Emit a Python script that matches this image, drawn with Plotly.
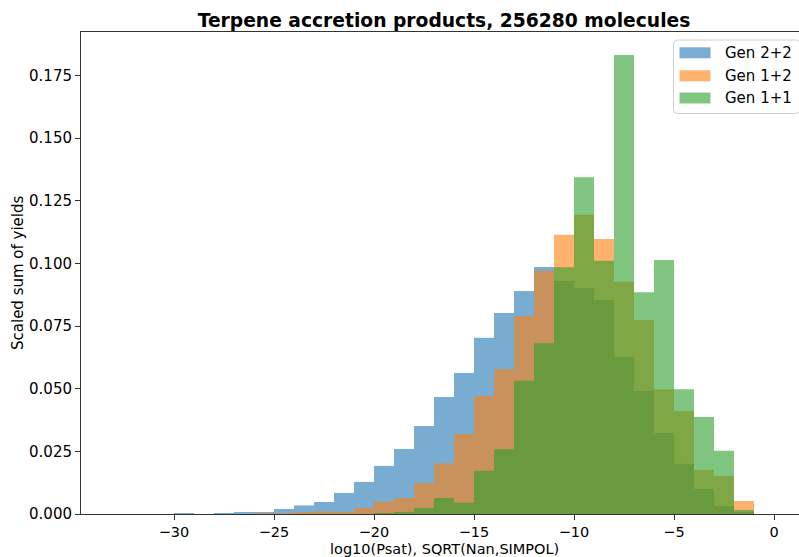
import plotly.graph_objects as go

# ---------------- data ----------------
bin_edges = list(range(-33, 1))  # 33 bins of width 1, from -33 to 0

# values per bin (left edges -33 ... -1)
gen22 = [0, 0, 0, 0.0002, 0, 0.0003, 0.0007, 0.0008, 0.0020, 0.0034, 0.0048,
         0.0084, 0.0128, 0.0192, 0.0259, 0.0351, 0.0467, 0.0563, 0.0703, 0.0802,
         0.0890, 0.0986, 0.0930, 0.0902, 0.0854, 0.0627, 0.0491, 0.0323, 0.0200,
         0.0100, 0.0032, 0.0006, 0]
gen12 = [0, 0, 0, 0, 0, 0, 0, 0.0002, 0.0003, 0.0006, 0.0010,
         0.0008, 0.0024, 0.0050, 0.0064, 0.0123, 0.0202, 0.0319, 0.0471, 0.0578,
         0.0790, 0.0971, 0.1114, 0.1194, 0.1097, 0.0927, 0.0774, 0.0498, 0.0411,
         0.0176, 0.0152, 0.0052, 0]
gen11 = [0, 0, 0, 0, 0, 0, 0, 0, 0, 0, 0,
         0, 0, 0.0002, 0.0006, 0.0024, 0.0064, 0.0045, 0.0172, 0.0258,
         0.0532, 0.0681, 0.0985, 0.1344, 0.1011, 0.1832, 0.0885, 0.1014, 0.0498,
         0.0387, 0.0252, 0.0016, 0]

series_names = ["Gen 2+2", "Gen 1+2", "Gen 1+1"]
series_colors = ["#1f77b4", "#ff7f0e", "#2ca02c"]

x_tick_vals = [-30, -25, -20, -15, -10, -5, 0]
x_tick_text = ["\u221230", "\u221225", "\u221220", "\u221215", "\u221210", "\u22125", "0"]
y_tick_vals = [0.0, 0.025, 0.05, 0.075, 0.1, 0.125, 0.15, 0.175]
y_tick_text = ["0.000", "0.025", "0.050", "0.075", "0.100", "0.125", "0.150", "0.175"]

title_text = "Terpene accretion products, 256280 molecules"
x_label = "log10(Psat), SQRT(Nan,SIMPOL)"
y_label = "Scaled sum of yields"

# ---------------- layout geometry (pixels) ----------------
W, H = 799, 557
PL, PT, PB = 81, 32, 514
PR = 799
FONT = "DejaVu Sans"
ALPHA = 0.6


def px(x):
    return (x - PL) / (PR - PL)


def py(y):
    return (PB - y) / (PB - PT)


centers = [(a + b) / 2 for a, b in zip(bin_edges[:-1], bin_edges[1:])]
widths = [b - a for a, b in zip(bin_edges[:-1], bin_edges[1:])]

# matplotlib-like autoscale (5% margins); plot area is cut at the right edge
xmin, xmax = bin_edges[0], bin_edges[-1]
span = xmax - xmin
x0 = xmin - 0.05 * span
x1_full = xmax + 0.05 * span
full_px = (PR - PL) + 8  # axes extend ~8px beyond the picture
x1 = x0 + (x1_full - x0) * (PR - PL) / full_px
ymax = max(max(gen22), max(gen12), max(gen11)) * 1.05

fig = go.Figure()
for name, vals, col in zip(series_names, [gen22, gen12, gen11], series_colors):
    fig.add_trace(go.Bar(
        x=centers, y=vals, width=widths, name=name,
        marker=dict(color=col, line=dict(width=0)),
        opacity=ALPHA, showlegend=False,
    ))

axis_col = "#333333"
fig.update_layout(
    width=W, height=H,
    margin=dict(l=PL, r=W - PR, t=PT, b=H - PB, pad=0),
    paper_bgcolor="white", plot_bgcolor="white",
    barmode="overlay",
    font=dict(family=FONT, size=15, color="black"),
    title=dict(text="<b>" + title_text + "</b>", font=dict(family=FONT, size=18.7, color="black"),
               x=px(444), xref="paper", xanchor="center",
               y=1 - 20 / H, yref="container", yanchor="middle"),
    xaxis=dict(range=[x0, x1], tickvals=x_tick_vals, ticktext=x_tick_text,
               showgrid=False, zeroline=False, showline=True, linecolor=axis_col,
               linewidth=1, mirror=True, ticks="outside", ticklen=5, tickwidth=1,
               tickcolor=axis_col, tickfont=dict(size=14.5, family=FONT)),
    yaxis=dict(range=[0, ymax], tickvals=y_tick_vals, ticktext=y_tick_text,
               showgrid=False, zeroline=False, showline=True, linecolor=axis_col,
               linewidth=1, ticks="outside", ticklen=5, tickwidth=1,
               tickcolor=axis_col, tickfont=dict(size=15, family=FONT)),
)

# axis titles
fig.add_annotation(text=x_label, xref="paper", yref="paper", x=px(444), y=py(548.5),
                   xanchor="center", yanchor="middle", showarrow=False,
                   font=dict(family=FONT, size=14.5, color="black"))
fig.add_annotation(text=y_label, xref="paper", yref="paper", x=px(18), y=0.5,
                   xanchor="center", yanchor="middle", showarrow=False, textangle=-90,
                   font=dict(family=FONT, size=15, color="black"))

# legend (drawn manually, matplotlib style)
bx0, by0, bx1, by1 = 673.5, 40, 800, 113.5
r = 4
path = (f"M {px(bx0 + r)},{py(by0)} L {px(bx1 - r)},{py(by0)} "
        f"Q {px(bx1)},{py(by0)} {px(bx1)},{py(by0 + r)} "
        f"L {px(bx1)},{py(by1 - r)} Q {px(bx1)},{py(by1)} {px(bx1 - r)},{py(by1)} "
        f"L {px(bx0 + r)},{py(by1)} Q {px(bx0)},{py(by1)} {px(bx0)},{py(by1 - r)} "
        f"L {px(bx0)},{py(by0 + r)} Q {px(bx0)},{py(by0)} {px(bx0 + r)},{py(by0)} Z")
fig.add_shape(type="path", path=path, xref="paper", yref="paper",
              fillcolor="rgba(255,255,255,0.8)", line=dict(color="#d0d0d0", width=1))
row_centers = [52.8, 75.8, 98.0]
for name, col, yc in zip(series_names, series_colors, row_centers):
    fig.add_shape(type="rect", xref="paper", yref="paper",
                  x0=px(679.5), x1=px(710.5), y0=py(yc - 5.5), y1=py(yc + 5.5),
                  fillcolor=col, opacity=ALPHA, line=dict(width=0))
    fig.add_annotation(text=name, xref="paper", yref="paper", x=px(723), y=py(yc),
                       xanchor="left", yanchor="middle", showarrow=False,
                       font=dict(family=FONT, size=15, color="black"))

fig.write_html("out.html")
